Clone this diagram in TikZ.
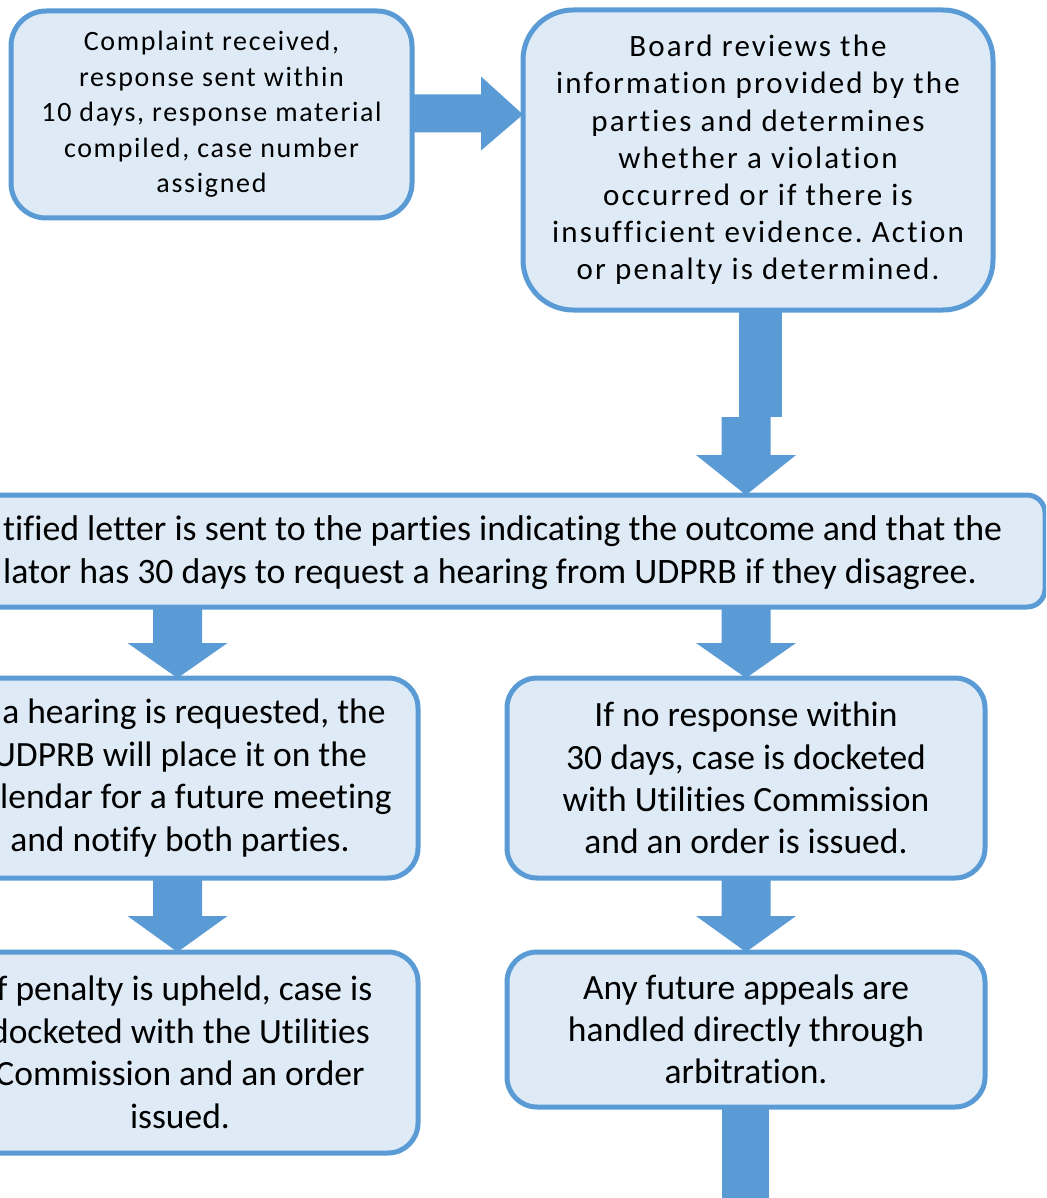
\documentclass[tikz,border=0pt]{standalone}
\usepackage{fontspec}
\setmainfont{Carlito}[Ligatures=NoCommon]
\frenchspacing
\usetikzlibrary{calc}
\definecolor{bord}{HTML}{5B9BD5}
\definecolor{boxfill}{HTML}{DEEBF7}
\newcommand\dnblock[3]{%
  \fill[arr] ($(#1)+(-24.5,0)$) -- ($(#2)+(-24.5,-#3)$) -- ($(#2)+(-50,-#3)$) -- (#2)
    -- ($(#2)+(50,-#3)$) -- ($(#2)+(24.5,-#3)$) -- ($(#1)+(24.5,0)$) -- cycle;}
\begin{document}
\begin{tikzpicture}[x=1pt,y=-1pt,
  box/.style={draw=bord, fill=boxfill, line width=5pt, rounded corners=#1,
    inner sep=0pt, outer sep=0pt, align=center, text=black},
  box/.default=30pt,
  arr/.style={fill=bord}]
\useasboundingbox (0,0) rectangle (1046,1198);
\clip (0,0) rectangle (1046,1198);
% boxes
\node[box=35pt, minimum width=401pt, minimum height=207pt,
  font=\fontsize{28}{35.5}\selectfont\addfontfeature{LetterSpace=6}] (b1) at (211.5,114.5)
  {Complaint received,\\ response sent within\\ 10 days, response material\\ compiled, case number\\ assigned};
\node[box=50pt, minimum width=470pt, minimum height=300pt,
  font=\fontsize{31}{37.2}\selectfont\addfontfeature{LetterSpace=7}] (b2) at (758,160)
  {Board reviews the\\ information provided by the\\ parties and determines\\ whether a violation\\ occurred or if there is\\ insufficient evidence. Action\\ or penalty is determined.};
\node[box=18pt, minimum width=1085pt, minimum height=112pt] (wide) at (502.5,551) {};
\node[anchor=west, align=left, inner sep=0pt, font=\fontsize{35.8}{43}\selectfont] (widetext) at (3,553)
  {tified letter is sent to the parties indicating the outcome and that the\\ lator has 30 days to request a hearing from UDPRB if they disagree.};
\node[box, minimum width=476pt, minimum height=200pt, font=\fontsize{35.5}{42.6}\selectfont] (b4) at (180,778)
  {If a hearing is requested, the\\ UDPRB will place it on the\\ calendar for a future meeting\\ and notify both parties.};
\node[box, minimum width=478pt, minimum height=200pt, font=\fontsize{35.5}{42.3}\selectfont] (b5) at (746,778)
  {If no response within\\ 30 days, case is docketed\\ with Utilities Commission\\ and an order is issued.};
\node[box, minimum width=476pt, minimum height=201pt, font=\fontsize{35.5}{42.5}\selectfont] (b6) at (180,1052.5)
  {If penalty is upheld, case is\\ docketed with the Utilities\\ Commission and an order\\ issued.};
\node[box, minimum width=478pt, minimum height=155pt, font=\fontsize{35.5}{42}\selectfont] (b7) at (746,1029.5)
  {Any future appeals are\\ handled directly through\\ arbitration.};
% connector b1 -> b2
\coordinate (t12) at (b1.east -| b2.west);
\fill[arr] ($(b1.east)+(0,-20)$) -- ($(t12)+(-42,-20)$) -- ($(t12)+(-42,-38)$) -- (t12)
  -- ($(t12)+(-42,36)$) -- ($(t12)+(-42,18)$) -- ($(b1.east)+(0,18)$) -- cycle;
% connector b2 -> wide
\fill[arr] ($(b2.south)+(-19,0)$) rectangle ($(b2.south)+(24,107)$);
\coordinate (t2w) at (b5.north |- wide.north);
\coordinate (s2w) at ($(t2w)+(0,-78)$);
\dnblock{s2w}{t2w}{40}
% wide -> b4, wide -> b5
\coordinate (t4) at ($(b4.north)+(-2.5,0)$);
\coordinate (s4) at (wide.south -| t4);
\dnblock{s4}{t4}{35}
\coordinate (s5) at (wide.south -| b5.north);
\dnblock{s5}{b5.north}{35}
% b4 -> b6, b5 -> b7
\coordinate (t6) at ($(b6.north)+(-2.5,0)$);
\coordinate (s6) at ($(b4.south)+(-2.5,0)$);
\dnblock{s6}{t6}{36}
\dnblock{b5.south}{b7.north}{36}
% stub below b7
\coordinate (endb7) at ($(b7.south)+(0,100)$);
\fill[arr] ($(b7.south)+(-24.5,0)$) rectangle ($(endb7)+(22.5,0)$);
\end{tikzpicture}
\end{document}
